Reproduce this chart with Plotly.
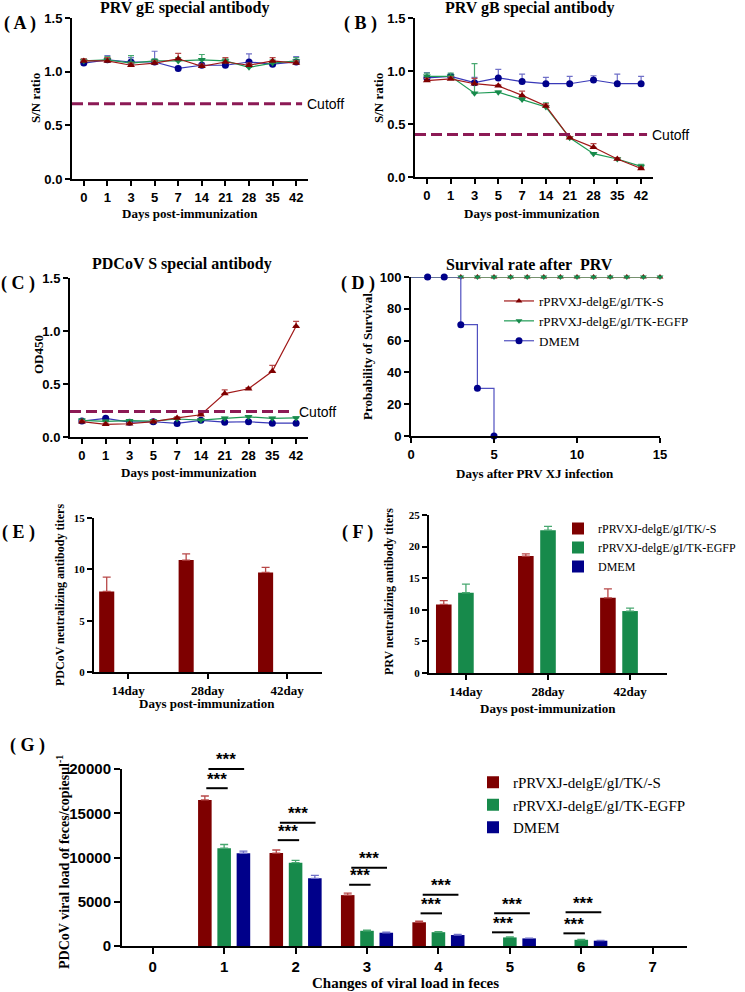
import plotly.graph_objects as go

W, H = 745, 992
def fx(p): return p / W
def fy(p): return 1 - p / H

RED = "#7E0000"; GREEN = "#178A4B"; BLUE = "#00008A"
RED_L = "#A01818"; GREEN_L = "#1E9A55"; BLUE_L = "#3838B8"
RED_E = "#B84848"; GREEN_E = "#48A870"; BLUE_E = "#7070C8"
CUT = "#8C1A55"
SERIF = "Liberation Serif, Times New Roman, serif"
SANS = "Liberation Sans, Arial, sans-serif"

# ---------------- data ----------------
days = ["0", "1", "3", "5", "7", "14", "21", "28", "35", "42"]

# (A) PRV gE S/N ratio
a_red = [1.10, 1.10, 1.06, 1.08, 1.12, 1.05, 1.09, 1.06, 1.10, 1.08]
a_red_err = [0.02, 0.03, 0.02, 0.02, 0.05, 0.02, 0.04, 0.02, 0.03, 0.02]
a_green = [1.10, 1.11, 1.08, 1.10, 1.10, 1.11, 1.10, 1.04, 1.08, 1.10]
a_green_err = [0.02, 0.03, 0.07, 0.02, 0.03, 0.05, 0.02, 0.02, 0.03, 0.03]
a_blue = [1.08, 1.11, 1.09, 1.09, 1.03, 1.06, 1.06, 1.09, 1.07, 1.09]
a_blue_err = [0.03, 0.04, 0.04, 0.10, 0.02, 0.02, 0.02, 0.075, 0.02, 0.05]
a_cutoff = 0.7

# (B) PRV gB S/N ratio
b_red = [0.91, 0.925, 0.88, 0.86, 0.77, 0.67, 0.37, 0.28, 0.17, 0.08]
b_red_err = [0.02, 0.02, 0.05, 0.01, 0.04, 0.02, 0.01, 0.035, 0.01, 0.01]
b_green = [0.95, 0.95, 0.79, 0.80, 0.73, 0.66, 0.37, 0.22, 0.17, 0.10]
b_green_err = [0.03, 0.03, 0.28, 0.01, 0.02, 0.04, 0.01, 0.01, 0.01, 0.02]
b_blue = [0.935, 0.95, 0.89, 0.935, 0.90, 0.88, 0.88, 0.915, 0.88, 0.88]
b_blue_err = [0.05, 0.02, 0.05, 0.08, 0.07, 0.06, 0.07, 0.04, 0.09, 0.07]
b_cutoff = 0.4

# (C) PDCoV S OD450
c_red = [0.145, 0.12, 0.125, 0.145, 0.18, 0.21, 0.41, 0.455, 0.62, 1.045]
c_red_err = [0.01, 0.01, 0.01, 0.01, 0.01, 0.01, 0.035, 0.01, 0.055, 0.045]
c_green = [0.157, 0.148, 0.154, 0.15, 0.17, 0.16, 0.176, 0.19, 0.176, 0.18]
c_green_err = [0.01] * 10
c_blue = [0.15, 0.176, 0.14, 0.144, 0.128, 0.157, 0.14, 0.144, 0.13, 0.13]
c_blue_err = [0.01] * 10
c_cutoff = 0.24

# (D) survival (% alive per day)
d_days = list(range(0, 16))
d_red = [100] * 16
d_green = [100] * 16
d_blue_days = [0, 1, 2, 3, 4, 5]
d_blue = [100, 100, 100, 70, 30, 0]

# (E) PDCoV neutralizing titers
nt_cats = ["14day", "28day", "42day"]
e_red = [7.85, 10.9, 9.7]
e_red_err = [1.4, 0.6, 0.5]

# (F) PRV neutralizing titers
f_red = [10.85, 18.5, 11.9]
f_red_err = [0.6, 0.35, 1.4]
f_green = [12.7, 22.6, 9.8]
f_green_err = [1.35, 0.6, 0.45]
f_blue = [0, 0, 0]
f_blue_err = [0, 0, 0]

# (G) PDCoV viral load in feces
g_cats = ["0", "1", "2", "3", "4", "5", "6", "7"]
g_red = [0, 16500, 10500, 5750, 2680, 0, 0, 0]
g_red_err = [0, 450, 350, 220, 130, 0, 0, 0]
g_green = [0, 11050, 9420, 1720, 1560, 970, 700, 0]
g_green_err = [0, 420, 260, 70, 70, 60, 50, 0]
g_blue = [0, 10480, 7650, 1500, 1240, 860, 600, 0]
g_blue_err = [0, 250, 330, 60, 60, 40, 40, 0]
sig_groups = [1, 2, 3, 4, 5, 6]
sig_short_y = [17830, 11960, 6920, 3690, 1545, 1430]
sig_long_y = [20010, 13920, 8840, 5790, 3690, 3800]

names = ["rPRVXJ-delgE/gI/TK-S", "rPRVXJ-delgE/gI/TK-EGFP", "DMEM"]
bar_names = ["rPRVXJ-delgE/gI/TK/-S", "rPRVXJ-delgE/gI/TK-EGFP", "DMEM"]

fig = go.Figure()

def line_trace(x, y, err, color, lcolor, ecolor, symbol, ax, size=7):
    return go.Scatter(
        x=x, y=y, mode="lines+markers", xaxis=ax[0], yaxis=ax[1],
        line=dict(color=lcolor, width=1.2),
        marker=dict(color=color, symbol=symbol, size=size),
        error_y=dict(type="data", symmetric=False, array=err, arrayminus=[0] * len(err),
                     color=ecolor, thickness=1.2, width=3),
        showlegend=False, cliponaxis=False)

panels = [
    (("x", "y"), a_red, a_red_err, a_green, a_green_err, a_blue, a_blue_err),
    (("x2", "y2"), b_red, b_red_err, b_green, b_green_err, b_blue, b_blue_err),
    (("x3", "y3"), c_red, c_red_err, c_green, c_green_err, c_blue, c_blue_err),
]
for ax, r, re_, g, ge, b, be in panels:
    fig.add_trace(line_trace(days, b, be, BLUE, BLUE_L, BLUE_E, "circle", ax))
    fig.add_trace(line_trace(days, g, ge, GREEN, GREEN_L, GREEN_E, "triangle-down", ax))
    fig.add_trace(line_trace(days, r, re_, RED, RED_L, RED_E, "triangle-up", ax))

# (D) survival: starting segment (day 0 -> 1) without marker, then lines+markers
for xs, ys, col, lcol, sym, nm, sz in [
        (d_days, d_red, RED, RED_L, "triangle-up", names[0], 6),
        (d_days, d_green, GREEN, GREEN_L, "triangle-down", names[1], 6),
        (d_blue_days, d_blue, BLUE, "#5050C0", "circle", names[2], 7)]:
    fig.add_trace(go.Scatter(x=xs[:2], y=ys[:2], mode="lines", line_shape="hv",
                             xaxis="x4", yaxis="y4", showlegend=False,
                             line=dict(color=lcol, width=1.2)))
    fig.add_trace(go.Scatter(x=xs[1:], y=ys[1:], mode="lines+markers", line_shape="hv",
                             xaxis="x4", yaxis="y4", name=nm, legend="legend",
                             line=dict(color=lcol, width=1.2),
                             marker=dict(color=col, symbol=sym, size=sz), cliponaxis=False))

BW = 0.19
OFF = [-0.27 - BW / 2, -BW / 2, 0.27 - BW / 2]

def bar_trace(x, y, err, color, ecolor, k, ax, name, legend, show):
    # zero-height groups are simply not drawn
    y_plot = [v if v else None for v in y]
    err_plot = [e if v else None for v, e in zip(y, err)]
    return go.Bar(x=x, y=y_plot, width=BW, offset=OFF[k], xaxis=ax[0], yaxis=ax[1],
                  marker=dict(color=color, line=dict(width=0)),
                  error_y=dict(type="data", symmetric=False, array=err_plot,
                               arrayminus=[0 if v else None for v in y],
                               color=ecolor, thickness=1.3, width=4),
                  name=name, legend=legend, showlegend=show)

fig.add_trace(bar_trace(nt_cats, e_red, e_red_err, RED, RED_E, 0, ("x5", "y5"), bar_names[0], "legend2", False))

fig.add_trace(bar_trace(nt_cats, f_red, f_red_err, RED, RED_E, 0, ("x6", "y6"), bar_names[0], "legend2", True))
fig.add_trace(bar_trace(nt_cats, f_green, f_green_err, GREEN, GREEN_E, 1, ("x6", "y6"), bar_names[1], "legend2", True))
fig.add_trace(bar_trace(nt_cats, f_blue, f_blue_err, BLUE, BLUE_E, 2, ("x6", "y6"), bar_names[2], "legend2", True))

fig.add_trace(bar_trace(g_cats, g_red, g_red_err, RED, RED_E, 0, ("x7", "y7"), bar_names[0], "legend3", True))
fig.add_trace(bar_trace(g_cats, g_green, g_green_err, GREEN, GREEN_E, 1, ("x7", "y7"), bar_names[1], "legend3", True))
fig.add_trace(bar_trace(g_cats, g_blue, g_blue_err, BLUE, BLUE_E, 2, ("x7", "y7"), bar_names[2], "legend3", True))

# ---------------- axes ----------------
def axis_common(font, size):
    return dict(showline=True, linecolor="black", linewidth=2, ticks="outside", ticklen=5,
                tickwidth=2, tickcolor="black", showgrid=False, zeroline=False, automargin=False,
                tickfont=dict(family=font, size=size, color="black", weight="bold"), fixedrange=True)

layout_axes = {}
def add_axes(n, xdom, ydom, xkw, ykw, font=SANS, size=13, ticklen=5, xfont=None, xsize=None):
    xs = "xaxis" if n == 1 else f"xaxis{n}"
    ys = "yaxis" if n == 1 else f"yaxis{n}"
    ya = "y" if n == 1 else f"y{n}"
    xa = "x" if n == 1 else f"x{n}"
    xd = dict(axis_common(xfont or font, xsize or size), domain=[fx(xdom[0]), fx(xdom[1])], anchor=ya, ticklen=ticklen)
    xd.update(xkw)
    yd = dict(axis_common(font, size), domain=[fy(ydom[0]), fy(ydom[1])], anchor=xa, ticklen=ticklen)
    yd.update(ykw)
    layout_axes[xs] = xd
    layout_axes[ys] = yd

cat_x = dict(type="category", range=[-0.5, 9.5])
sn_y = dict(range=[0, 1.5], tickvals=[0, 0.5, 1.0, 1.5], tickformat=".1f")
add_axes(1, (72, 308), (179, 18), cat_x, sn_y)
add_axes(2, (415, 653), (177, 18), cat_x, sn_y)
add_axes(3, (70, 308), (437, 278), cat_x, sn_y)
add_axes(4, (411, 660), (436, 277), dict(range=[0, 15], tickvals=[0, 5, 10, 15]),
         dict(range=[0, 100], tickvals=[0, 20, 40, 60, 80, 100]))
add_axes(5, (94, 322), (672, 518), dict(type="category", range=[-0.43, 2.44]),
         dict(range=[0, 15], tickvals=[0, 5, 10, 15]), font=SERIF, size=11, xsize=13)
add_axes(6, (429, 667), (673, 515), dict(type="category", range=[-0.45, 2.45]),
         dict(range=[0, 25], tickvals=[0, 5, 10, 15, 20, 25]), font=SERIF, size=11, xsize=13)
G_DOM = (946, 769)
G_RANGE = [0, 20000]
add_axes(7, (122, 687), G_DOM, dict(type="category", range=[-0.43, 7.48]),
         dict(range=G_RANGE, tickvals=[0, 5000, 10000, 15000, 20000], tickformat="d"),
         font=SANS, size=15, ticklen=6)

def g_to_paper(v):
    y0, y1 = fy(G_DOM[0]), fy(G_DOM[1])
    return y0 + (v - G_RANGE[0]) / (G_RANGE[1] - G_RANGE[0]) * (y1 - y0)

# ---------------- texts ----------------
ann = []
def txt(t, x, y, size, font=SERIF, bold=True, angle=0, xanchor="center", yanchor="middle"):
    ann.append(dict(text=t, x=fx(x), y=fy(y), xref="paper", yref="paper", showarrow=False,
                    textangle=angle, xanchor=xanchor, yanchor=yanchor,
                    font=dict(family=font, size=size, color="black", weight="bold" if bold else "normal")))

txt("PRV gE special antibody", 184, 8, 16)
txt("PRV gB special antibody", 529, 8, 16)
txt("PDCoV S special antibody", 182, 264, 16)
txt("Survival rate after  PRV", 529, 264, 16)
txt("S/N ratio", 36, 98, 13, angle=-90)
txt("S/N ratio", 379, 98, 13, angle=-90)
txt("OD450", 38, 355, 13, angle=-90)
txt("Probability of Survival", 367, 357, 13, angle=-90)
txt("Days post-immunization", 190, 213, 13)
txt("Days post-immunization", 532, 213, 13)
txt("Days post-immunization", 189, 472, 13)
txt("Days after PRV XJ infection", 535, 473, 13)
txt("PDCoV neutralizing antibody titers", 60, 595, 12, angle=-90)
txt("PRV neutralizing antibody titers", 389, 592, 12, angle=-90)
txt("Days post-immunization", 207, 703, 13)
txt("Days post-immunization", 548, 708, 13)
txt("PDCoV viral load of feces/copiesμl<sup>-1</sup>", 63, 862, 14, angle=-90)
txt("Changes of viral load in feces", 405, 983, 15)
for lab, x, y in [("( A )", 20, 24), ("( B )", 360, 24), ("( C )", 18, 283), ("( D )", 358, 283),
                  ("( E )", 18, 532), ("( F )", 357, 532), ("( G )", 27, 745)]:
    txt(lab, x, y, 18)

shapes = []
for ax, cut, x1 in [("", a_cutoff, 0.975), ("2", b_cutoff, 0.975), ("3", c_cutoff, 0.94)]:
    shapes.append(dict(type="line", xref=f"x{ax} domain", yref=f"y{ax}", x0=0, x1=x1, y0=cut, y1=cut,
                       line=dict(color=CUT, width=3, dash="11px,5px")))
    ann.append(dict(text="Cutoff", xref=f"x{ax} domain", yref=f"y{ax}", x=x1, y=cut, xanchor="left",
                    yanchor="middle", xshift=3, showarrow=False,
                    font=dict(family=SANS, size=14, color="black")))

# significance brackets in (G)
for gi, ys, yl in zip(sig_groups, sig_short_y, sig_long_y):
    for x0, x1, yv in [(gi - 0.25, gi + 0.05, ys), (gi - 0.22, gi + 0.28, yl)]:
        yp = g_to_paper(yv)
        shapes.append(dict(type="line", xref="x7", yref="paper", x0=x0, x1=x1, y0=yp, y1=yp,
                           line=dict(color="black", width=2)))
        ann.append(dict(text="***", xref="x7", yref="paper", x=(x0 + x1) / 2, y=yp, yanchor="middle",
                        yshift=9, showarrow=False,
                        font=dict(family=SANS, size=17, color="black", weight="bold")))

fig.update_layout(
    width=W, height=H, margin=dict(l=0, r=0, t=0, b=0),
    paper_bgcolor="white", plot_bgcolor="white", barmode="overlay",
    annotations=ann, shapes=shapes,
    legend=dict(x=fx(499), y=fy(286), xanchor="left", yanchor="top", bgcolor="rgba(0,0,0,0)",
                font=dict(family=SERIF, size=13, color="black")),
    legend2=dict(x=fx(558), y=fy(514), xanchor="left", yanchor="top", bgcolor="rgba(0,0,0,0)",
                 font=dict(family=SERIF, size=12, color="black")),
    legend3=dict(x=fx(473), y=fy(766), xanchor="left", yanchor="top", bgcolor="rgba(0,0,0,0)",
                 font=dict(family=SERIF, size=15, color="black")),
    **layout_axes,
)

fig.write_html("out.html", config={"displayModeBar": False},
               post_script="document.body.style.margin='0';document.body.style.overflow='hidden';")
